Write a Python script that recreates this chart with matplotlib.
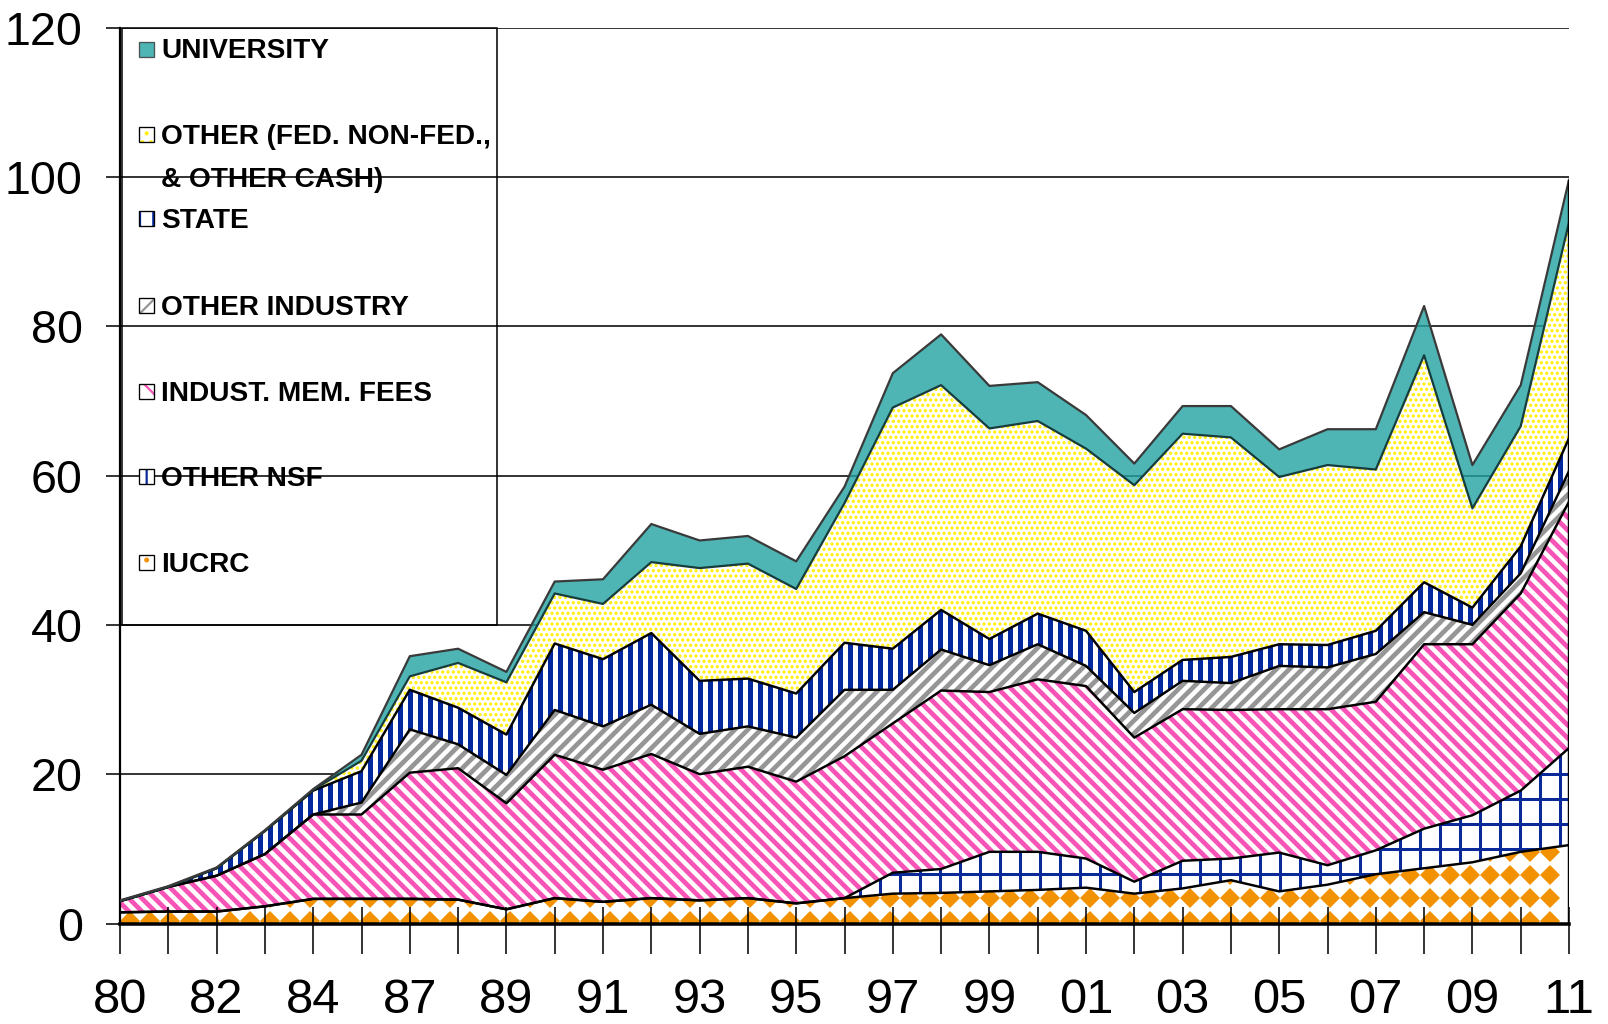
import numpy as np
import matplotlib.pyplot as plt
from matplotlib.patches import Rectangle
from matplotlib.collections import LineCollection

# categorias (anos) e valores de cada fonte de financiamento
years = ['80', '81', '82', '83', '84', '86', '87', '88', '89', '90', '91', '92', '93', '94', '95',
         '96', '97', '98', '99', '00', '01', '02', '03', '04', '05', '06', '07', '08', '09', '10', '11']

iucrc = [1.5, 1.6, 1.6, 2.3, 3.3, 3.3, 3.3, 3.2, 1.9, 3.4, 2.9, 3.4, 3.1, 3.4, 2.7, 3.4,
         4.0, 4.1, 4.3, 4.5, 4.8, 4.0, 4.7, 5.8, 4.3, 5.2, 6.6, 7.4, 8.2, 9.6, 10.5]
other_nsf = [0, 0, 0, 0, 0, 0, 0, 0, 0, 0, 0, 0, 0, 0, 0, 0,
             2.8, 3.2, 5.3, 5.1, 3.9, 1.6, 3.7, 2.9, 5.2, 2.6, 3.2, 5.3, 6.3, 8.2, 13.0]
indust_fees = [1.5, 3.3, 4.8, 7.0, 11.3, 11.3, 16.9, 17.6, 14.2, 19.2, 17.7, 19.3, 16.9, 17.6, 16.3, 19.0,
               20.0, 23.9, 21.4, 23.1, 23.1, 19.3, 20.3, 19.9, 19.2, 20.9, 19.9, 24.7, 22.9, 26.4, 33.0]
other_industry = [0, 0, 0, 0, 0, 1.6, 5.8, 3.2, 3.8, 6.0, 5.8, 6.6, 5.4, 5.4, 5.9, 8.9,
                  4.5, 5.5, 3.6, 4.7, 2.7, 3.3, 3.8, 3.6, 5.8, 5.6, 6.4, 4.3, 2.6, 2.7, 4.1]
state = [0, 0, 1.0, 3.1, 3.2, 4.2, 5.3, 4.9, 5.4, 8.9, 9.0, 9.6, 7.1, 6.4, 5.9, 6.3,
         5.5, 5.3, 3.5, 4.1, 4.7, 2.8, 2.8, 3.5, 2.9, 3.0, 3.1, 4.0, 2.3, 3.6, 4.4]
other_cash = [0, 0, 0, 0, 0.1, 1.4, 1.8, 6.0, 7.0, 6.7, 7.4, 9.5, 15.1, 15.4, 14.0, 18.7,
              32.3, 30.1, 28.2, 25.8, 24.4, 27.7, 30.3, 29.4, 22.4, 24.1, 21.6, 30.4, 13.3, 16.1, 28.9]
university = [0.1, 0.1, 0.1, 0.1, 0.1, 0.8, 2.7, 1.9, 1.4, 1.6, 3.3, 5.1, 3.7, 3.7, 3.7, 2.2,
              4.6, 6.8, 5.7, 5.2, 4.5, 2.9, 3.7, 4.2, 3.7, 4.8, 5.4, 6.6, 5.8, 5.5, 5.7]

labels = ['IUCRC', 'OTHER NSF', 'INDUST. MEM. FEES', 'OTHER INDUSTRY', 'STATE',
          'OTHER (FED. NON-FED.,', 'UNIVERSITY']
font = ['Liberation Sans', 'DejaVu Sans']

orange, blue, pink, gray = '#F39200', '#0B2A9A', '#F654B6', '#969696'
yellow, teal = '#FFEE00', '#22A2A2'

x = np.arange(len(years))
series = [iucrc, other_nsf, indust_fees, other_industry, state, other_cash, university]
tops = np.cumsum(series, axis=0)

W, H = 1608, 1024
fig = plt.figure(figsize=(W / 160, H / 160), dpi=160)
ax = fig.add_axes([0.07463, 0.09814, 0.90112, 0.875])
ax.set_xlim(0, len(years) - 1)
ax.set_ylim(0, 120)

# pixels por unidade de dados (para desenhar as texturas)
axw, axh = 0.90112 * W, 0.875 * H
sx, sy = axw / (len(years) - 1), axh / 120
PT = 72 / 160


def stripes(poly, color, width_px, step_px, kind):
    path = poly.get_paths()[0]
    segs = []
    if kind == '|':
        for px in np.arange(0, axw + step_px, step_px):
            segs.append([(px / sx, 0), (px / sx, 120)])
    elif kind == '-':
        for py in np.arange(0, axh + step_px, step_px):
            segs.append([(0, py / sy), (30, py / sy)])
    else:
        sgn = 1 if kind == '/' else -1
        for c in np.arange(-axw - axh, axw + axh, step_px):
            x0, x1 = 0, axw
            segs.append([(x0 / sx, (c + sgn * x0) / sy), (x1 / sx, (c + sgn * x1) / sy)])
    lc = LineCollection(segs, colors=color, linewidths=width_px * PT, zorder=1.5,
                        capstyle='butt')
    ax.add_collection(lc)
    lc.set_clip_path(path, ax.transData)


for v in range(20, 121, 20):
    ax.axhline(v, color='black', lw=0.7, zorder=0.5)

polys = []
lower = np.zeros(len(years))
for i in range(len(series)):
    if i == 6:
        p = ax.fill_between(x, lower, tops[i], facecolor=teal, alpha=0.8, linewidth=0, zorder=1)
    elif i == 5:
        p = ax.fill_between(x, lower, tops[i], facecolor='white', edgecolor=yellow,
                            hatch='.....', linewidth=0, zorder=1)
    else:
        p = ax.fill_between(x, lower, tops[i], facecolor='white', linewidth=0, zorder=1)
    polys.append(p)
    lower = tops[i]

# texturas de cada camada
gx = np.arange(10, axw, 20) / sx
gy = np.arange(3, 120 * sy, 23) / sy
GX, GY = np.meshgrid(gx, gy)
dots, = ax.plot(GX.ravel(), GY.ravel(), 'D', color=orange, ms=6.2, mew=0, zorder=1.5)
dots.set_clip_path(polys[0].get_paths()[0], ax.transData)
stripes(polys[1], blue, 3, 20, '|')
stripes(polys[1], blue, 3, 25, '-')
stripes(polys[2], pink, 4.7, 13, '\\')
stripes(polys[3], gray, 4.7, 13, '/')
stripes(polys[4], '#00289E', 5, 10, '|')

# linhas de contorno das camadas
for i in range(5):
    ax.plot(x, tops[i], color='black', lw=1.1, zorder=3)
ax.plot(x, tops[5], color='#163c3c', lw=1.0, zorder=3)
ax.plot(x, tops[6], color='#3a3a3a', lw=1.0, zorder=3)
ax.vlines(x[-1], 0, tops[6][-1], color='black', lw=1.1, zorder=3)

ax.set_xticks(x)
ax.set_xticklabels([y if i % 2 == 0 else '' for i, y in enumerate(years)])
ax.set_xticks(x, minor=True)
ax.xaxis.remove_overlapping_locs = False
ax.tick_params(axis='x', which='major', direction='out', length=13.5, width=0.7, pad=11)
ax.tick_params(axis='x', which='minor', direction='in', length=7.5, width=0.7)
ax.set_yticks(range(0, 121, 20))
ax.tick_params(axis='y', direction='out', length=6.3, width=0.7, pad=10.5)
for t in ax.get_xticklabels():
    t.set_family(font)
    t.set_fontsize(22)
for t in ax.get_yticklabels():
    t.set_family(font)
    t.set_fontsize(21)

for s in ['top', 'right']:
    ax.spines[s].set_visible(False)
ax.spines['left'].set_linewidth(1.0)
ax.spines['bottom'].set_linewidth(1.6)
ax.spines['bottom'].set_zorder(4)

# legenda desenhada à mão
ax.add_patch(Rectangle((0.0014, 0.3333), 0.2588, 0.6667, transform=ax.transAxes,
                       fill=False, edgecolor='black', lw=0.7, zorder=5, clip_on=False))
leg_y = [0.3921, 0.4885, 0.5833, 0.6793, 0.7764, 0.8701, 0.9656]
swatch = [('white', orange, '..'), ('white', blue, '+'), ('white', pink, '\\\\'),
          ('white', gray, '//'), ('white', '#00289E', '||'), ('white', yellow, '...'),
          (teal, None, None)]
pw, ph = 0.01035, 0.01674
for i, lab in enumerate(labels):
    yb = leg_y[i]
    face, hcol, hatch = swatch[i]
    if hatch is None:
        ax.add_patch(Rectangle((0.0131, yb + 0.002), pw, ph, transform=ax.transAxes,
                               facecolor=face, alpha=0.8, edgecolor='#333333', lw=0.6, zorder=5))
    else:
        ax.add_patch(Rectangle((0.0131, yb + 0.002), pw, ph, transform=ax.transAxes,
                               facecolor=face, edgecolor=hcol, hatch=hatch, lw=0, zorder=5))
        ax.add_patch(Rectangle((0.0131, yb + 0.002), pw, ph, transform=ax.transAxes,
                               fill=False, edgecolor='black', lw=0.6, zorder=5))
    ax.text(0.0283, yb, lab, transform=ax.transAxes, family=font, fontweight='bold',
            fontsize=12.6, va='baseline', ha='left', zorder=6)
ax.text(0.0283, 0.8222, '& OTHER CASH)', transform=ax.transAxes, family=font,
        fontweight='bold', fontsize=12.6, va='baseline', ha='left', zorder=6)

fig.savefig('out.png', dpi=160)
